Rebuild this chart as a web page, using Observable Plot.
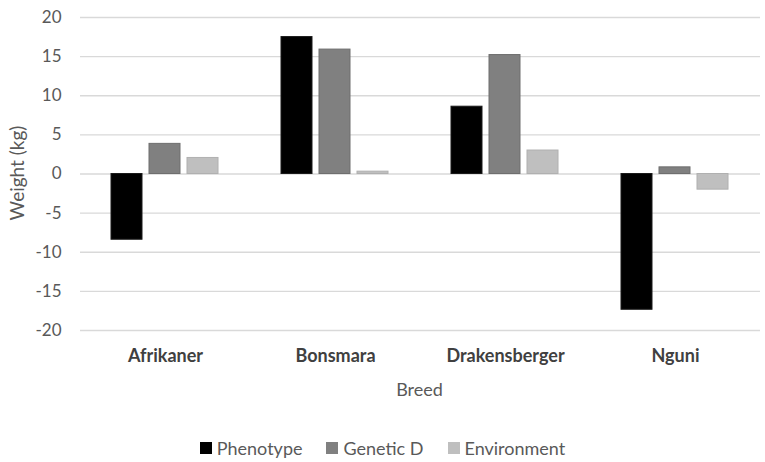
<!DOCTYPE html>
<html>
<head>
<meta charset="utf-8">
<script src="https://cdn.jsdelivr.net/npm/d3@7"></script>
<script src="https://cdn.jsdelivr.net/npm/@observablehq/plot@0.6"></script>
<style>
  html, body { margin: 0; padding: 0; background: #fff; }
  #wrap { position: relative; width: 765px; height: 462px; font-family: Lato, "Open Sans", sans-serif; color: #595959; }
  #xlabel { position: absolute; left: 79px; width: 681px; top: 378px; text-align: center; font-size: 18px; }
  #ylabel { position: absolute; left: 16px; top: 173px; transform: translate(-50%, -50%) rotate(-90deg); white-space: nowrap; font-size: 19px; }
  #legend { position: absolute; left: 0; width: 765px; top: 436px; display: flex; justify-content: center; gap: 24px; font-size: 18px; line-height: 24px; }
  .item { display: flex; align-items: center; gap: 5px; }
  .sw { width: 12px; height: 12px; display: inline-block; }
</style>
</head>
<body>
<div id="wrap">
  <div id="chart"></div>
  <div id="xlabel">Breed</div>
  <div id="ylabel">Weight (kg)</div>
  <div id="legend"></div>
</div>
<script>
const breeds = ["Afrikaner", "Bonsmara", "Drakensberger", "Nguni"];
const seriesNames = ["Phenotype", "Genetic D", "Environment"];
const phenotype = [-8.4, 17.5, 8.6, -17.35];
const geneticD = [3.85, 15.9, 15.2, 0.85];
const environment = [2.05, 0.3, 3.0, -2.0];
const yTicks = [-20, -15, -10, -5, 0, 5, 10, 15, 20];

const fills = ["#000000", "#808080", "#bfbfbf"];
const strokes = ["#1a1a1a", "#6e6e6e", "#b0b0b0"];
const valuesBySeries = [phenotype, geneticD, environment];

const rows = [];
seriesNames.forEach((s, i) => {
  breeds.forEach((b, j) => rows.push({breed: b, series: s, value: valuesBySeries[i][j]}));
});

const barMarks = seriesNames.map((s, i) =>
  Plot.barY(rows.filter(d => d.series === s), {
    fx: "breed", x: "series", y: "value",
    fill: fills[i], stroke: strokes[i], strokeWidth: 1
  })
);

const plot = Plot.plot({
  width: 765,
  height: 370,
  marginTop: 17,
  marginBottom: 40,
  marginLeft: 79,
  marginRight: 5,
  style: {fontFamily: "Lato, 'Open Sans', sans-serif", fontSize: "17px", color: "#595959", background: "#fff"},
  fx: {domain: breeds, padding: 0},
  x: {domain: seriesNames, paddingInner: 0.18, paddingOuter: 0.81, axis: null},
  y: {domain: [-20, 20]},
  marks: [
    Plot.ruleY(yTicks, {stroke: "#d9d9d9", strokeWidth: 1.4}),
    ...barMarks,
    Plot.axisY({ticks: yTicks, tickSize: 0, tickPadding: 19, tickFormat: d => String(d), label: null, fontSize: 17}),
    Plot.axisFx({anchor: "bottom", tickSize: 0, tickPadding: 19, label: null, fontWeight: "bold", fontSize: 18, fill: "#404040"})
  ]
});
document.getElementById("chart").appendChild(plot);

const legend = document.getElementById("legend");
seriesNames.forEach((s, i) => {
  const it = document.createElement("div");
  it.className = "item";
  const sw = document.createElement("span");
  sw.className = "sw";
  sw.style.background = fills[i];
  const t = document.createElement("span");
  t.textContent = s;
  it.appendChild(sw); it.appendChild(t);
  legend.appendChild(it);
});
</script>
</body>
</html>
